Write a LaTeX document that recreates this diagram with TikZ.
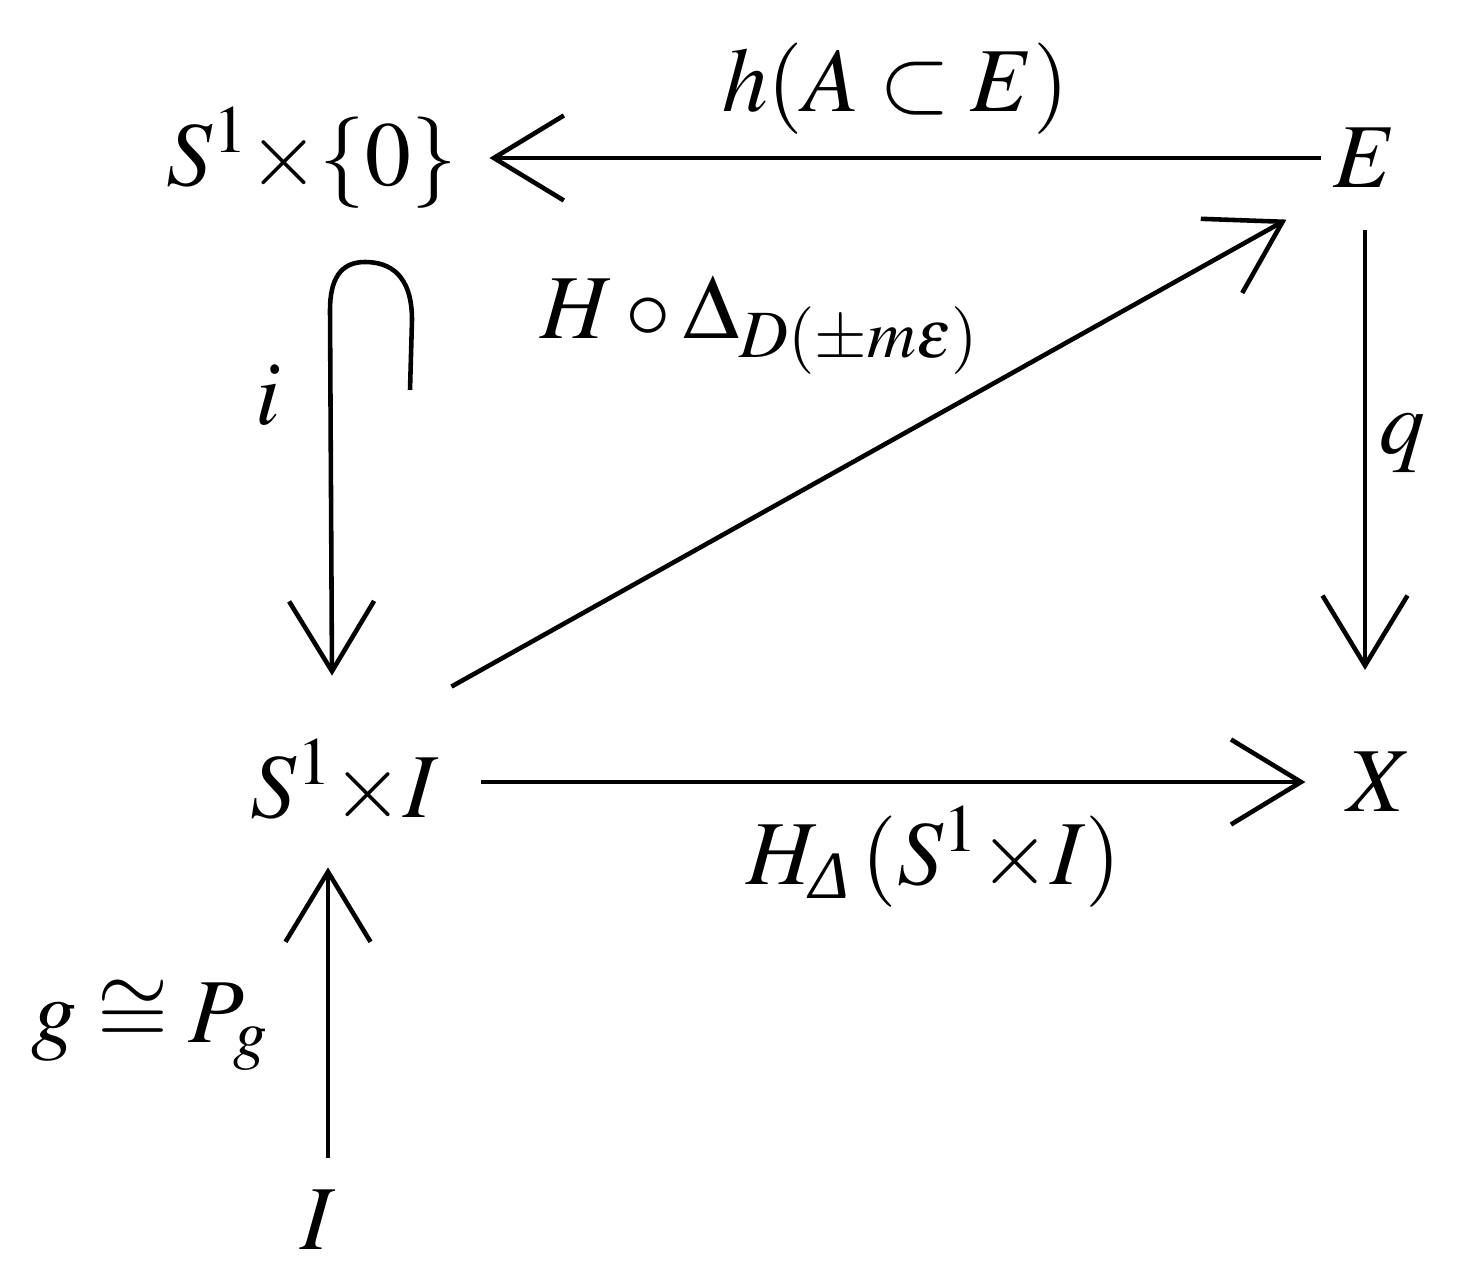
\documentclass[tikz,border=0pt]{standalone}
\usepackage{amsmath,amssymb}
\usepackage{mathptmx}
\usepackage[no-math]{fontspec}
\newfontfamily\greekit{Liberation Serif}
\usetikzlibrary{arrows.meta, positioning}
\tikzset{
>={Straight Barb[length=7mm,width=8.5mm]}, % long open arrow heads
every node/.style={font=\fontsize{26}{30}\selectfont}, % large math labels
map/.style={->, line width=1.3pt}, % the maps of the square
}

\begin{document}
\begin{tikzpicture}
        \useasboundingbox (0,0) rectangle (14.7,-12.77);
        \node (sz) at (3.12,-1.58) {$S^1{\times}\{0\}$};
        \node (e) at (13.65,-1.58) {$E$};
        \node (si) at (3.45,-7.82) {$S^1{\times}I$};
        \node (x) at (13.8,-7.82) {$X$};
        \node (ii) at (3.18,-12.2) {$I$};
        \coordinate (hookstart) at (4.10,-3.90);

        \draw[map, shorten >=2mm] (e) -- node[above=1mm]{$h(A\subset E)$} (sz);
        \draw[map, shorten <=3mm, shorten >=3mm] (si) -- node[below=1mm, xshift=4mm]{$H_{\text{\greekit\itshape Δ}}\,(S^1{\times}I)$} (x);
        \draw[map, shorten <=3mm, shorten >=7mm] (e.south) -- node[right=0mm, pos=0.45]{$q$} (e.south |- x.north);
        \draw[map, shorten >=4mm] ([yshift=4mm]si.north east) -- (e.south west);
        \draw[map] (hookstart) -- (4.12,-3.2) .. controls (4.12,-2.75) and (3.9,-2.62) .. (3.65,-2.62)
              .. controls (3.4,-2.62) and (3.3,-2.8) .. (3.3,-3.1) -- ([xshift=-1.3mm,yshift=5.1mm]si.north);
        \draw[map, shorten <=2mm, shorten >=3mm] ([xshift=1mm]ii.north) -- ([xshift=1mm]ii.north |- si.south);

        \node (ilabel) at (2.68,-3.95) {$i$};
        \node (hlabel) at (7.60,-3.25) {$H\circ\Delta_{D(\pm m\varepsilon)}$};
        \node (glabel) at (1.50,-10.25) {$g\cong P_g$};
    \end{tikzpicture}
\end{document}
